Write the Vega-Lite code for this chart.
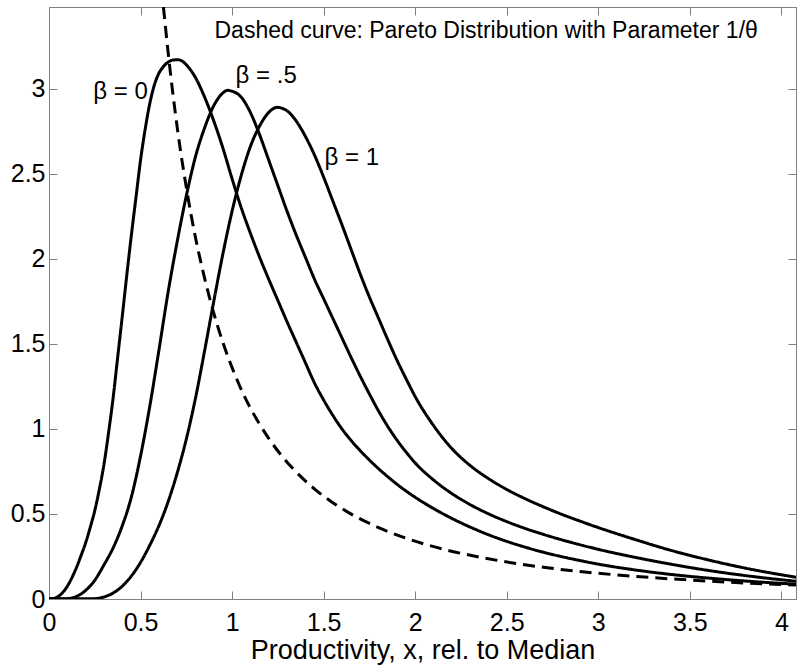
{
  "$schema": "https://vega.github.io/schema/vega-lite/v6.json",
  "width": 747,
  "height": 592,
  "autosize": {"type": "none"},
  "padding": {"left": 49, "top": 7, "right": 2, "bottom": 68},
  "background": "white",
  "config": {"view": {"stroke": "#808080", "strokeWidth": 1}, "font": "Liberation Sans"},
  "datasets": {
    "curves": [
      {"curve": "b0", "x": 0, "y": 0}, {"curve": "b0", "x": 0.03, "y": 0.004}, {"curve": "b0", "x": 0.05, "y": 0.015}, {"curve": "b0", "x": 0.075, "y": 0.038}, {"curve": "b0", "x": 0.1, "y": 0.075}, {"curve": "b0", "x": 0.125, "y": 0.125}, {"curve": "b0", "x": 0.15, "y": 0.185}, {"curve": "b0", "x": 0.175, "y": 0.255}, {"curve": "b0", "x": 0.2, "y": 0.33}, {"curve": "b0", "x": 0.225, "y": 0.42}, {"curve": "b0", "x": 0.25, "y": 0.52}, {"curve": "b0", "x": 0.275, "y": 0.645}, {"curve": "b0", "x": 0.3, "y": 0.79}, {"curve": "b0", "x": 0.325, "y": 0.975}, {"curve": "b0", "x": 0.35, "y": 1.18}, {"curve": "b0", "x": 0.375, "y": 1.42}, {"curve": "b0", "x": 0.4, "y": 1.66}, {"curve": "b0", "x": 0.425, "y": 1.905}, {"curve": "b0", "x": 0.45, "y": 2.14}, {"curve": "b0", "x": 0.475, "y": 2.36}, {"curve": "b0", "x": 0.5, "y": 2.58}, {"curve": "b0", "x": 0.525, "y": 2.76}, {"curve": "b0", "x": 0.55, "y": 2.91}, {"curve": "b0", "x": 0.575, "y": 3.02}, {"curve": "b0", "x": 0.6, "y": 3.09}, {"curve": "b0", "x": 0.625, "y": 3.13}, {"curve": "b0", "x": 0.65, "y": 3.155}, {"curve": "b0", "x": 0.675, "y": 3.168}, {"curve": "b0", "x": 0.704, "y": 3.17}, {"curve": "b0", "x": 0.73, "y": 3.16}, {"curve": "b0", "x": 0.75, "y": 3.14}, {"curve": "b0", "x": 0.8, "y": 3.065}, {"curve": "b0", "x": 0.85, "y": 2.95}, {"curve": "b0", "x": 0.9, "y": 2.81}, {"curve": "b0", "x": 0.95, "y": 2.65}, {"curve": "b0", "x": 1.0, "y": 2.47}, {"curve": "b0", "x": 1.05, "y": 2.3}, {"curve": "b0", "x": 1.1, "y": 2.15}, {"curve": "b0", "x": 1.15, "y": 2.01}, {"curve": "b0", "x": 1.2, "y": 1.88}, {"curve": "b0", "x": 1.25, "y": 1.755}, {"curve": "b0", "x": 1.3, "y": 1.63}, {"curve": "b0", "x": 1.35, "y": 1.51}, {"curve": "b0", "x": 1.4, "y": 1.39}, {"curve": "b0", "x": 1.45, "y": 1.27}, {"curve": "b0", "x": 1.5, "y": 1.17}, {"curve": "b0", "x": 1.55, "y": 1.08}, {"curve": "b0", "x": 1.6, "y": 1.0}, {"curve": "b0", "x": 1.65, "y": 0.932}, {"curve": "b0", "x": 1.7, "y": 0.872}, {"curve": "b0", "x": 1.75, "y": 0.817}, {"curve": "b0", "x": 1.8, "y": 0.766}, {"curve": "b0", "x": 1.85, "y": 0.719}, {"curve": "b0", "x": 1.9, "y": 0.675}, {"curve": "b0", "x": 1.95, "y": 0.635}, {"curve": "b0", "x": 2.0, "y": 0.598}, {"curve": "b0", "x": 2.1, "y": 0.532}, {"curve": "b0", "x": 2.2, "y": 0.474}, {"curve": "b0", "x": 2.3, "y": 0.423}, {"curve": "b0", "x": 2.4, "y": 0.378}, {"curve": "b0", "x": 2.5, "y": 0.339}, {"curve": "b0", "x": 2.6, "y": 0.305}, {"curve": "b0", "x": 2.7, "y": 0.275}, {"curve": "b0", "x": 2.8, "y": 0.249}, {"curve": "b0", "x": 2.9, "y": 0.226}, {"curve": "b0", "x": 3.0, "y": 0.205}, {"curve": "b0", "x": 3.2, "y": 0.171}, {"curve": "b0", "x": 3.4, "y": 0.144}, {"curve": "b0", "x": 3.6, "y": 0.123}, {"curve": "b0", "x": 3.8, "y": 0.106}, {"curve": "b0", "x": 4.08, "y": 0.087},
      {"curve": "b05", "x": 0, "y": 0}, {"curve": "b05", "x": 0.1, "y": 0.002}, {"curve": "b05", "x": 0.15, "y": 0.015}, {"curve": "b05", "x": 0.2, "y": 0.05}, {"curve": "b05", "x": 0.25, "y": 0.11}, {"curve": "b05", "x": 0.3, "y": 0.2}, {"curve": "b05", "x": 0.35, "y": 0.3}, {"curve": "b05", "x": 0.4, "y": 0.43}, {"curve": "b05", "x": 0.45, "y": 0.6}, {"curve": "b05", "x": 0.5, "y": 0.84}, {"curve": "b05", "x": 0.55, "y": 1.13}, {"curve": "b05", "x": 0.6, "y": 1.46}, {"curve": "b05", "x": 0.65, "y": 1.8}, {"curve": "b05", "x": 0.7, "y": 2.1}, {"curve": "b05", "x": 0.75, "y": 2.37}, {"curve": "b05", "x": 0.8, "y": 2.6}, {"curve": "b05", "x": 0.85, "y": 2.77}, {"curve": "b05", "x": 0.9, "y": 2.9}, {"curve": "b05", "x": 0.95, "y": 2.975}, {"curve": "b05", "x": 0.975, "y": 2.99}, {"curve": "b05", "x": 1.0, "y": 2.985}, {"curve": "b05", "x": 1.05, "y": 2.95}, {"curve": "b05", "x": 1.1, "y": 2.86}, {"curve": "b05", "x": 1.15, "y": 2.73}, {"curve": "b05", "x": 1.2, "y": 2.58}, {"curve": "b05", "x": 1.25, "y": 2.43}, {"curve": "b05", "x": 1.3, "y": 2.28}, {"curve": "b05", "x": 1.35, "y": 2.14}, {"curve": "b05", "x": 1.4, "y": 2.01}, {"curve": "b05", "x": 1.45, "y": 1.88}, {"curve": "b05", "x": 1.5, "y": 1.765}, {"curve": "b05", "x": 1.55, "y": 1.65}, {"curve": "b05", "x": 1.6, "y": 1.535}, {"curve": "b05", "x": 1.65, "y": 1.42}, {"curve": "b05", "x": 1.7, "y": 1.31}, {"curve": "b05", "x": 1.75, "y": 1.205}, {"curve": "b05", "x": 1.8, "y": 1.105}, {"curve": "b05", "x": 1.85, "y": 1.015}, {"curve": "b05", "x": 1.9, "y": 0.935}, {"curve": "b05", "x": 1.95, "y": 0.864}, {"curve": "b05", "x": 2.0, "y": 0.8}, {"curve": "b05", "x": 2.1, "y": 0.7}, {"curve": "b05", "x": 2.2, "y": 0.62}, {"curve": "b05", "x": 2.3, "y": 0.555}, {"curve": "b05", "x": 2.4, "y": 0.501}, {"curve": "b05", "x": 2.5, "y": 0.455}, {"curve": "b05", "x": 2.6, "y": 0.415}, {"curve": "b05", "x": 2.7, "y": 0.38}, {"curve": "b05", "x": 2.8, "y": 0.348}, {"curve": "b05", "x": 2.9, "y": 0.319}, {"curve": "b05", "x": 3.0, "y": 0.292}, {"curve": "b05", "x": 3.2, "y": 0.245}, {"curve": "b05", "x": 3.4, "y": 0.204}, {"curve": "b05", "x": 3.6, "y": 0.168}, {"curve": "b05", "x": 3.8, "y": 0.138}, {"curve": "b05", "x": 4.08, "y": 0.104},
      {"curve": "b1", "x": 0, "y": 0}, {"curve": "b1", "x": 0.25, "y": 0.002}, {"curve": "b1", "x": 0.3, "y": 0.012}, {"curve": "b1", "x": 0.35, "y": 0.035}, {"curve": "b1", "x": 0.4, "y": 0.075}, {"curve": "b1", "x": 0.45, "y": 0.135}, {"curve": "b1", "x": 0.5, "y": 0.215}, {"curve": "b1", "x": 0.55, "y": 0.315}, {"curve": "b1", "x": 0.6, "y": 0.43}, {"curve": "b1", "x": 0.65, "y": 0.57}, {"curve": "b1", "x": 0.7, "y": 0.74}, {"curve": "b1", "x": 0.75, "y": 0.94}, {"curve": "b1", "x": 0.8, "y": 1.18}, {"curve": "b1", "x": 0.85, "y": 1.46}, {"curve": "b1", "x": 0.9, "y": 1.75}, {"curve": "b1", "x": 0.95, "y": 2.03}, {"curve": "b1", "x": 1.0, "y": 2.28}, {"curve": "b1", "x": 1.05, "y": 2.49}, {"curve": "b1", "x": 1.1, "y": 2.66}, {"curve": "b1", "x": 1.15, "y": 2.78}, {"curve": "b1", "x": 1.2, "y": 2.86}, {"curve": "b1", "x": 1.245, "y": 2.89}, {"curve": "b1", "x": 1.3, "y": 2.87}, {"curve": "b1", "x": 1.35, "y": 2.81}, {"curve": "b1", "x": 1.4, "y": 2.72}, {"curve": "b1", "x": 1.45, "y": 2.61}, {"curve": "b1", "x": 1.5, "y": 2.48}, {"curve": "b1", "x": 1.55, "y": 2.34}, {"curve": "b1", "x": 1.6, "y": 2.2}, {"curve": "b1", "x": 1.65, "y": 2.055}, {"curve": "b1", "x": 1.7, "y": 1.91}, {"curve": "b1", "x": 1.75, "y": 1.775}, {"curve": "b1", "x": 1.8, "y": 1.65}, {"curve": "b1", "x": 1.85, "y": 1.525}, {"curve": "b1", "x": 1.9, "y": 1.405}, {"curve": "b1", "x": 1.95, "y": 1.295}, {"curve": "b1", "x": 2.0, "y": 1.19}, {"curve": "b1", "x": 2.1, "y": 1.02}, {"curve": "b1", "x": 2.2, "y": 0.885}, {"curve": "b1", "x": 2.3, "y": 0.785}, {"curve": "b1", "x": 2.4, "y": 0.708}, {"curve": "b1", "x": 2.5, "y": 0.644}, {"curve": "b1", "x": 2.6, "y": 0.59}, {"curve": "b1", "x": 2.7, "y": 0.542}, {"curve": "b1", "x": 2.8, "y": 0.498}, {"curve": "b1", "x": 2.9, "y": 0.458}, {"curve": "b1", "x": 3.0, "y": 0.42}, {"curve": "b1", "x": 3.2, "y": 0.35}, {"curve": "b1", "x": 3.4, "y": 0.285}, {"curve": "b1", "x": 3.6, "y": 0.23}, {"curve": "b1", "x": 3.8, "y": 0.182}, {"curve": "b1", "x": 4.08, "y": 0.128},
      {"curve": "pareto", "x": 0.625, "y": 3.48}, {"curve": "pareto", "x": 0.65, "y": 3.22}, {"curve": "pareto", "x": 0.675, "y": 2.985}, {"curve": "pareto", "x": 0.7, "y": 2.775}, {"curve": "pareto", "x": 0.725, "y": 2.587}, {"curve": "pareto", "x": 0.75, "y": 2.42}, {"curve": "pareto", "x": 0.775, "y": 2.264}, {"curve": "pareto", "x": 0.8, "y": 2.125}, {"curve": "pareto", "x": 0.84, "y": 1.93}, {"curve": "pareto", "x": 0.877, "y": 1.77}, {"curve": "pareto", "x": 0.95, "y": 1.507}, {"curve": "pareto", "x": 1.0, "y": 1.36}, {"curve": "pareto", "x": 1.077, "y": 1.17}, {"curve": "pareto", "x": 1.14, "y": 1.046}, {"curve": "pareto", "x": 1.2, "y": 0.944}, {"curve": "pareto", "x": 1.277, "y": 0.834}, {"curve": "pareto", "x": 1.37, "y": 0.725}, {"curve": "pareto", "x": 1.459, "y": 0.639}, {"curve": "pareto", "x": 1.55, "y": 0.566}, {"curve": "pareto", "x": 1.641, "y": 0.505}, {"curve": "pareto", "x": 1.8, "y": 0.42}, {"curve": "pareto", "x": 1.914, "y": 0.371}, {"curve": "pareto", "x": 2.187, "y": 0.284}, {"curve": "pareto", "x": 2.368, "y": 0.243}, {"curve": "pareto", "x": 2.551, "y": 0.209}, {"curve": "pareto", "x": 2.733, "y": 0.182}, {"curve": "pareto", "x": 2.914, "y": 0.16}, {"curve": "pareto", "x": 3.097, "y": 0.142}, {"curve": "pareto", "x": 3.278, "y": 0.127}, {"curve": "pareto", "x": 3.46, "y": 0.114}, {"curve": "pareto", "x": 3.642, "y": 0.103}, {"curve": "pareto", "x": 3.824, "y": 0.093}, {"curve": "pareto", "x": 4.08, "y": 0.082}
    ],
    "betaLabels": [
      {"label": "β = 0", "x": 0.391, "y": 2.981},
      {"label": "β = .5", "x": 1.186, "y": 3.074},
      {"label": "β = 1", "x": 1.654, "y": 2.593}
    ],
    "note": [
      {"label": "Dashed curve: Pareto Distribution with Parameter 1/θ", "x": 0.904, "y": 3.337}
    ]
  },
  "resolve": {"axis": {"x": "independent", "y": "independent"}},
  "layer": [
    {
      "data": {"name": "curves"},
      "mark": {"type": "line", "interpolate": "monotone", "strokeWidth": 3, "color": "black", "clip": true},
      "encoding": {
        "x": {
          "field": "x", "type": "quantitative",
          "scale": {"domain": [0, 4.08], "nice": false, "zero": false},
          "axis": {
            "orient": "bottom", "values": [0, 0.5, 1, 1.5, 2, 2.5, 3, 3.5, 4], "format": "~g",
            "grid": false, "tickSize": -8, "labelPadding": 19, "labelFontSize": 25, "labelColor": "black",
            "labelFont": "Liberation Sans", "labelFlush": false, "labelOverlap": false,
            "domainColor": "#808080", "tickColor": "#808080",
            "title": "Productivity, x, rel. to Median", "titleFontSize": 27, "titleFontWeight": "normal",
            "titleColor": "black", "titleFont": "Liberation Sans", "titlePadding": 2
          }
        },
        "y": {
          "field": "y", "type": "quantitative",
          "scale": {"domain": [0, 3.48], "nice": false, "zero": false},
          "axis": {
            "orient": "left", "values": [0, 0.5, 1, 1.5, 2, 2.5, 3], "format": "~g",
            "grid": false, "tickSize": -8, "labelPadding": 12, "labelFontSize": 25, "labelColor": "black",
            "labelFont": "Liberation Sans", "labelFlush": false, "labelOverlap": false,
            "domainColor": "#808080", "tickColor": "#808080", "title": null
          }
        },
        "detail": {"field": "curve", "type": "nominal"},
        "strokeDash": {
          "field": "curve", "type": "nominal",
          "scale": {"domain": ["b0", "b05", "b1", "pareto"], "range": [[1, 0], [1, 0], [1, 0], [12, 7]]},
          "legend": null
        }
      }
    },
    {
      "data": {"name": "betaLabels"},
      "mark": {"type": "text", "align": "center", "baseline": "middle", "fontSize": 24, "font": "Liberation Sans", "color": "black"},
      "encoding": {
        "x": {"field": "x", "type": "quantitative", "axis": null},
        "y": {"field": "y", "type": "quantitative", "axis": null},
        "text": {"field": "label", "type": "nominal"}
      }
    },
    {
      "data": {"name": "note"},
      "mark": {"type": "text", "align": "left", "baseline": "middle", "fontSize": 23, "font": "Liberation Sans", "color": "black"},
      "encoding": {
        "x": {
          "field": "x", "type": "quantitative",
          "axis": {"orient": "top", "values": [0, 0.5, 1, 1.5, 2, 2.5, 3, 3.5, 4], "labels": false, "grid": false, "tickSize": -8, "domainColor": "#808080", "tickColor": "#808080", "title": null}
        },
        "y": {
          "field": "y", "type": "quantitative",
          "axis": {"orient": "right", "values": [0, 0.5, 1, 1.5, 2, 2.5, 3], "labels": false, "grid": false, "tickSize": -8, "domainColor": "#808080", "tickColor": "#808080", "title": null}
        },
        "text": {"field": "label", "type": "nominal"}
      }
    }
  ]
}
